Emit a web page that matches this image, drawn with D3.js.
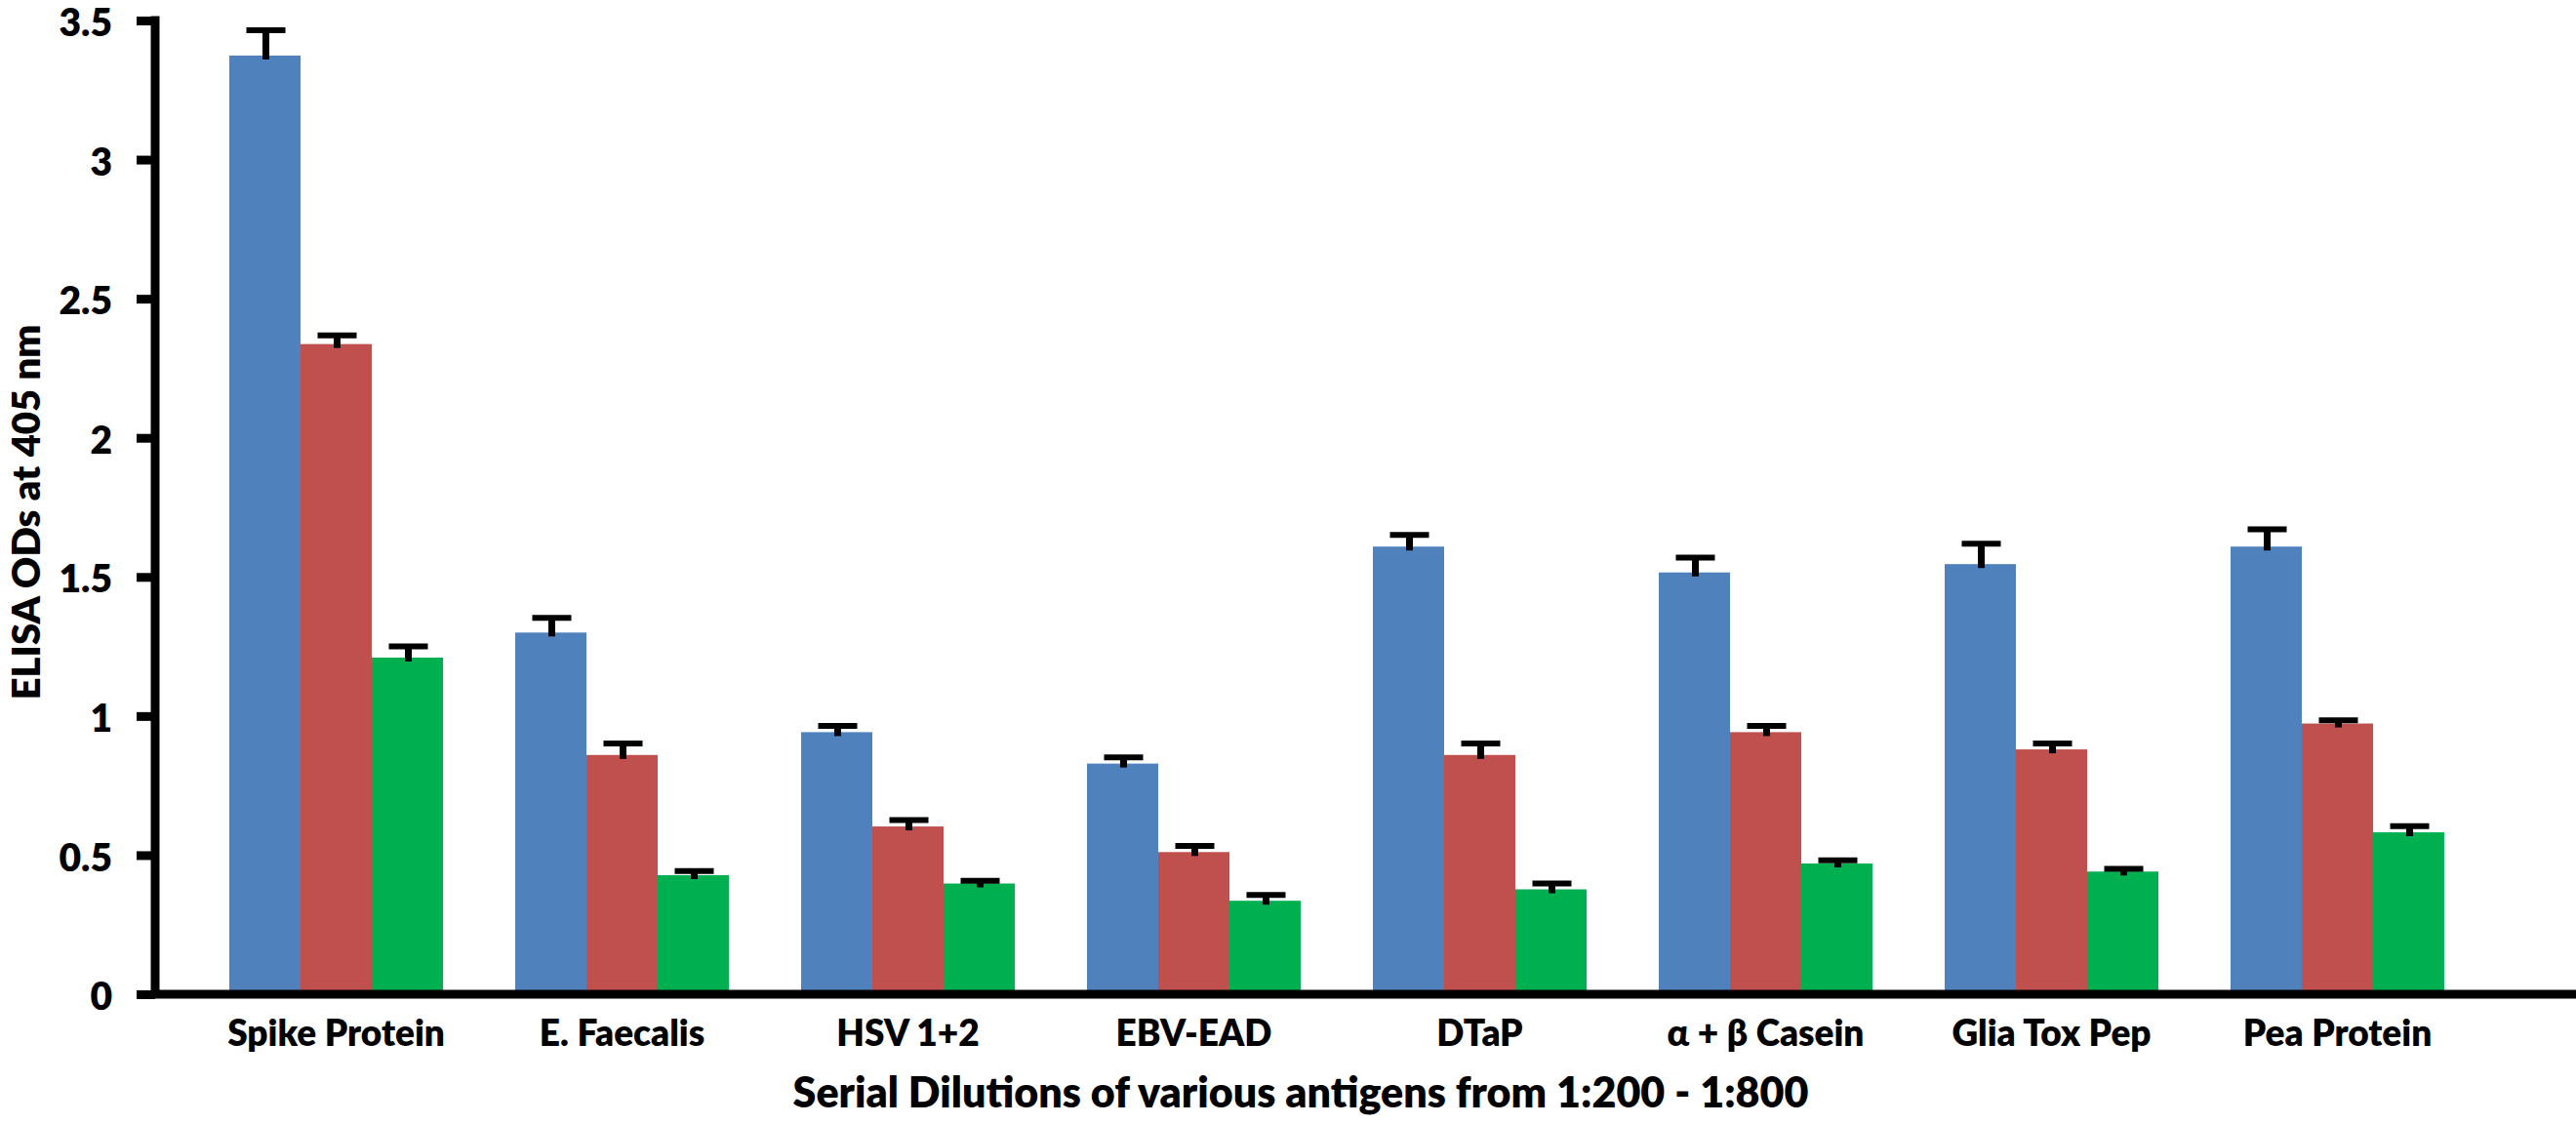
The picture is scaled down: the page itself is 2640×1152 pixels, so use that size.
<!DOCTYPE html>
<html>
<head>
<meta charset="utf-8">
<script src="https://cdn.jsdelivr.net/npm/d3@7"></script>
<style>
  html, body { margin: 0; padding: 0; background: #fff; }
  svg text { font-family: Lato, "Open Sans", sans-serif; font-weight: 800; fill: #000; }
</style>
</head>
<body>
<div id="chart"></div>
<script>
var antigens = ["Spike Protein", "E. Faecalis", "HSV 1+2", "EBV-EAD", "DTaP", "\u03B1 + \u03B2 Casein", "Glia Tox Pep", "Pea Protein"];
var dilutions = ["1:200", "1:400", "1:800"];

// mean ODs per dilution
var od200 = [3.374, 1.300, 0.942, 0.829, 1.609, 1.516, 1.546, 1.609];
var od400 = [2.337, 0.860, 0.603, 0.511, 0.860, 0.942, 0.880, 0.973];
var od800 = [1.210, 0.428, 0.398, 0.336, 0.377, 0.470, 0.441, 0.582];

// upper error bar lengths
var err200 = [0.091, 0.053, 0.022, 0.022, 0.042, 0.053, 0.073, 0.062];
var err400 = [0.031, 0.041, 0.023, 0.022, 0.041, 0.022, 0.021, 0.012];
var err800 = [0.040, 0.015, 0.010, 0.021, 0.021, 0.011, 0.010, 0.022];

var yTicks = [0, 0.5, 1, 1.5, 2, 2.5, 3, 3.5];

var colors = ["#4F81BD", "#C0504D", "#00B050"];

var w = 2640;
var h = 1152;
var axisX = 159;
var axisY = 1019;

var svg = d3.select("#chart").append("svg")
  .attr("width", w).attr("height", h);

var y = d3.scaleLinear().domain([0, 3.5]).range([axisY, 21]);

var x0 = d3.scaleBand().domain(antigens)
  .range([198, 2542]).paddingInner(0.2526).paddingOuter(0.1263);

var x1 = d3.scaleBand().domain(dilutions)
  .range([0, x0.bandwidth()]);

var rows = antigens.map(function(a, i) {
  return {
    antigen: a,
    values: [
      {dil: dilutions[0], v: od200[i], e: err200[i]},
      {dil: dilutions[1], v: od400[i], e: err400[i]},
      {dil: dilutions[2], v: od800[i], e: err800[i]}
    ]
  };
});

var groups = svg.selectAll("g.antigen").data(rows).enter()
  .append("g").attr("class", "antigen")
  .attr("transform", function(d) { return "translate(" + x0(d.antigen) + ",0)"; });

groups.selectAll("rect").data(function(d) { return d.values; }).enter()
  .append("rect")
  .attr("x", function(d) { return x1(d.dil); })
  .attr("width", x1.bandwidth())
  .attr("y", function(d) { return y(d.v); })
  .attr("height", function(d) { return y(0) - y(d.v); })
  .attr("fill", function(d, i) { return colors[i]; });

// error bars, plus direction only
groups.selectAll("g.err").data(function(d) { return d.values; }).enter()
  .append("g").attr("class", "err").each(function(d) {
    var cx = x1(d.dil) + x1.bandwidth() / 2 + 1;
    var g = d3.select(this);
    g.append("line")
      .attr("x1", cx).attr("x2", cx)
      .attr("y1", y(d.v) + 4).attr("y2", y(d.v + d.e))
      .attr("stroke", "#000").attr("stroke-width", 7);
    g.append("line")
      .attr("x1", cx - 20).attr("x2", cx + 20)
      .attr("y1", y(d.v + d.e)).attr("y2", y(d.v + d.e))
      .attr("stroke", "#000").attr("stroke-width", 6);
  });

// y axis
var yAxis = svg.append("g")
  .attr("transform", "translate(" + axisX + ",0)")
  .call(d3.axisLeft(y).tickValues(yTicks).tickSize(19).tickPadding(25)
    .tickFormat(function(d) { return String(d); }));
yAxis.select(".domain").remove();
yAxis.selectAll(".tick line").attr("stroke", "#000").attr("stroke-width", 9);
yAxis.selectAll(".tick text").style("font-size", "39px").attr("dy", "0.4em");
yAxis.append("line")
  .attr("x1", 0).attr("x2", 0)
  .attr("y1", y(3.5) - 4.5).attr("y2", axisY)
  .attr("stroke", "#000").attr("stroke-width", 9);

// x axis
var xAxis = svg.append("g")
  .attr("transform", "translate(0," + axisY + ")")
  .call(d3.axisBottom(x0).tickSize(0));
xAxis.select(".domain").remove();
xAxis.selectAll(".tick text").style("font-size", "37px").attr("y", 53).attr("dy", null);
xAxis.append("line")
  .attr("x1", axisX - 4).attr("x2", w)
  .attr("y1", 0).attr("y2", 0)
  .attr("stroke", "#000").attr("stroke-width", 9);

// axis titles
svg.append("text")
  .attr("x", 1333).attr("y", 1135)
  .attr("text-anchor", "middle")
  .style("font-size", "43px")
  .text("Serial Dilutions of various antigens from 1:200 - 1:800");

svg.append("text")
  .attr("transform", "translate(41,525) rotate(-90)")
  .attr("text-anchor", "middle")
  .style("font-size", "40px")
  .text("ELISA ODs at 405 nm");
</script>
</body>
</html>
